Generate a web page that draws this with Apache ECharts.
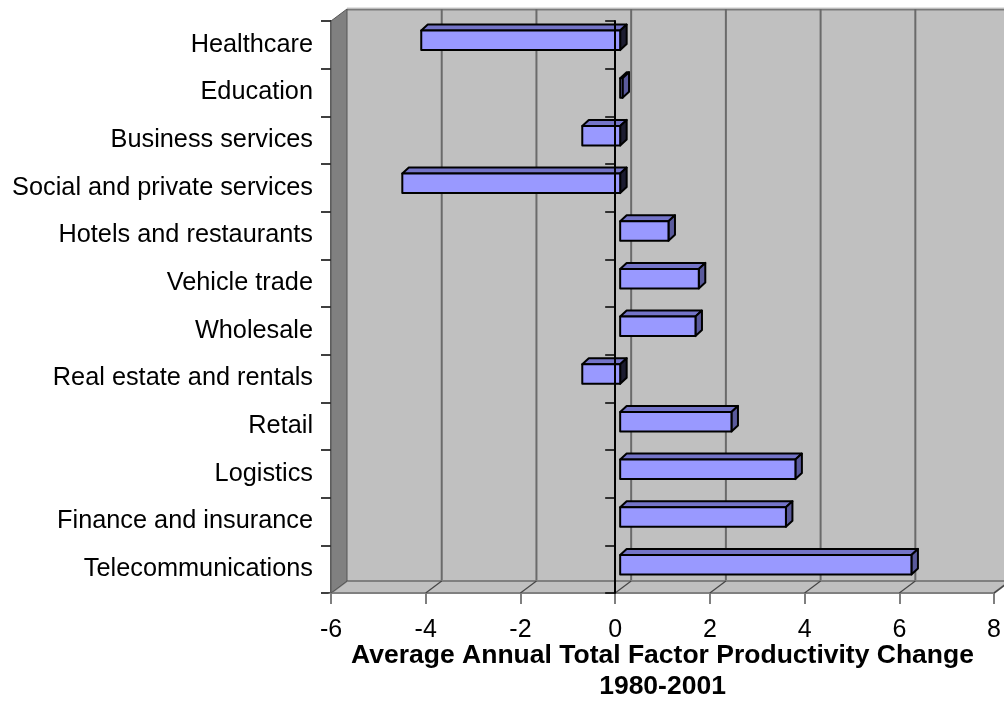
<!DOCTYPE html>
<html>
<head>
<meta charset="utf-8">
<script src="https://cdn.jsdelivr.net/npm/echarts@6/dist/echarts.min.js"></script>
<style>html,body{margin:0;padding:0;background:#fff}#c{width:1004px;height:723px}</style>
</head>
<body>
<div id="c"></div>
<script>
const categories = ['Healthcare','Education','Business services','Social and private services','Hotels and restaurants','Vehicle trade','Wholesale','Real estate and rentals','Retail','Logistics','Finance and insurance','Telecommunications'];
const tfpChange = [-4.2, 0.05, -0.8, -4.6, 1.02, 1.66, 1.59, -0.8, 2.35, 3.7, 3.5, 6.15];
const xTicks = [-6, -4, -2, 0, 2, 4, 6, 8];
const axisTitle = 'Average Annual Total Factor Productivity Change\n1980-2001';

const FONT = 'Liberation Sans, Arial, sans-serif';
const DEPTH = [16, -12];

const chart = echarts.init(document.getElementById('c'));

function renderWalls(params, api) {
  const cs = params.coordSys;
  const X = cs.x, Y = cs.y, W = cs.width, H = cs.height;
  const dx = DEPTH[0], dy = DEPTH[1];
  const kids = [];
  // back wall
  kids.push({type:'rect', shape:{x:X+dx, y:Y+dy, width:W+40, height:H}, style:{fill:'#c0c0c0'}});
  kids.push({type:'line', shape:{x1:X+dx, y1:Y+dy+0.5, x2:X+W+60, y2:Y+dy+0.5}, style:{stroke:'#7a7a7a', lineWidth:2}});
  kids.push({type:'line', shape:{x1:X+dx, y1:Y+dy-1.5, x2:X+W+60, y2:Y+dy-1.5}, style:{stroke:'#e4e4e4', lineWidth:1}});
  // back wall gridlines
  xTicks.forEach(function (v) {
    if (v === xTicks[0] || v === xTicks[xTicks.length-1]) return;
    const px = api.coord([v, 0])[0] + dx;
    kids.push({type:'line', shape:{x1:px, y1:Y+dy, x2:px, y2:Y+H+dy}, style:{stroke:'#6a6a6a', lineWidth:2}});
  });
  // floor
  kids.push({type:'polygon', shape:{points:[[X, Y+H],[X+dx, Y+H+dy],[X+W+dx, Y+H+dy],[X+W, Y+H]]}, style:{fill:'#c0c0c0', stroke:'#808080', lineWidth:2}});
  xTicks.forEach(function (v) {
    if (v === xTicks[0]) return;
    const px = api.coord([v, 0])[0];
    kids.push({type:'line', shape:{x1:px, y1:Y+H, x2:px+dx, y2:Y+H+dy}, style:{stroke:'#444', lineWidth:1.2}});
  });
  // left wall
  kids.push({type:'polygon', shape:{points:[[X, Y],[X+dx, Y+dy],[X+dx, Y+H+dy],[X, Y+H]]}, style:{fill:'#808080', stroke:'#555', lineWidth:1}});
  return {type:'group', children:kids};
}

function renderBar(params, api) {
  const v = api.value(0), ci = api.value(1);
  const a = api.coord([0, ci]), b = api.coord([v, ci]);
  const band = api.size([0, 1])[1];
  const h = band * 0.41;
  const ox = 5, oy = -4.5, ddx = 6.5, ddy = -6;
  const x0 = Math.min(a[0], b[0]) + ox, x1 = Math.max(a[0], b[0]) + ox;
  const yc = a[1] + oy;
  const y0 = yc - h / 2, y1 = yc + h / 2;
  const line = {stroke:'#000', lineWidth:2, lineJoin:'round'};
  return {type:'group', children:[
    {type:'polygon', shape:{points:[[x0,y0],[x1,y0],[x1+ddx,y0+ddy],[x0+ddx,y0+ddy]]}, style:Object.assign({fill:'#7474c8'}, line)},
    {type:'polygon', shape:{points:[[x1,y0],[x1+ddx,y0+ddy],[x1+ddx,y1+ddy],[x1,y1]]}, style:Object.assign({fill: v < 0 ? '#1c1c30' : '#5a5a9c'}, line)},
    {type:'rect', shape:{x:x0, y:y0, width:x1-x0, height:h}, style:Object.assign({fill:'#9999ff'}, line)}
  ]};
}

const option = {
  backgroundColor: '#ffffff',
  animation: false,
  grid: {left: 331, right: 8, top: 21, bottom: 130, containLabel: false},
  xAxis: {
    type: 'value', min: -6, max: 8, interval: 2,
    axisLine: {show: true, onZero: false, lineStyle: {color: '#222', width: 2}},
    axisTick: {show: true, length: 11, lineStyle: {color: '#555', width: 1.5}},
    axisLabel: {color: '#000', fontSize: 25, fontFamily: FONT, margin: 25},
    splitLine: {show: false},
    name: axisTitle, nameLocation: 'middle', nameGap: 47, nameMoveOverlap: false,
    nameTextStyle: {color: '#000', fontSize: 26.5, fontWeight: 'bold', fontFamily: FONT, lineHeight: 31}
  },
  yAxis: [{
    type: 'category', data: categories, inverse: true, position: 'left',
    axisLine: {show: true, onZero: false, lineStyle: {color: '#333', width: 1.5}},
    axisTick: {show: true, length: 10, lineStyle: {color: '#000', width: 1.5}},
    axisLabel: {color: '#000', fontSize: 25.3, fontFamily: FONT, margin: 18},
    splitLine: {show: false}
  }, {
    type: 'category', data: categories, inverse: true, position: 'left', z: 10,
    axisLine: {show: true, onZero: true, lineStyle: {color: '#000', width: 2}},
    axisTick: {show: true, length: 10, lineStyle: {color: '#000', width: 1.5}},
    axisLabel: {show: false},
    splitLine: {show: false}
  }],
  series: [{
    type: 'custom', name: 'walls', renderItem: renderWalls, data: [[0, 0]], z: 1, silent: true, clip: false
  }, {
    type: 'custom', name: 'TFP change', renderItem: renderBar, z: 3, clip: false,
    encode: {x: 0, y: 1},
    data: tfpChange.map(function (v, i) { return [v, i]; })
  }]
};
chart.setOption(option);
</script>
</body>
</html>
